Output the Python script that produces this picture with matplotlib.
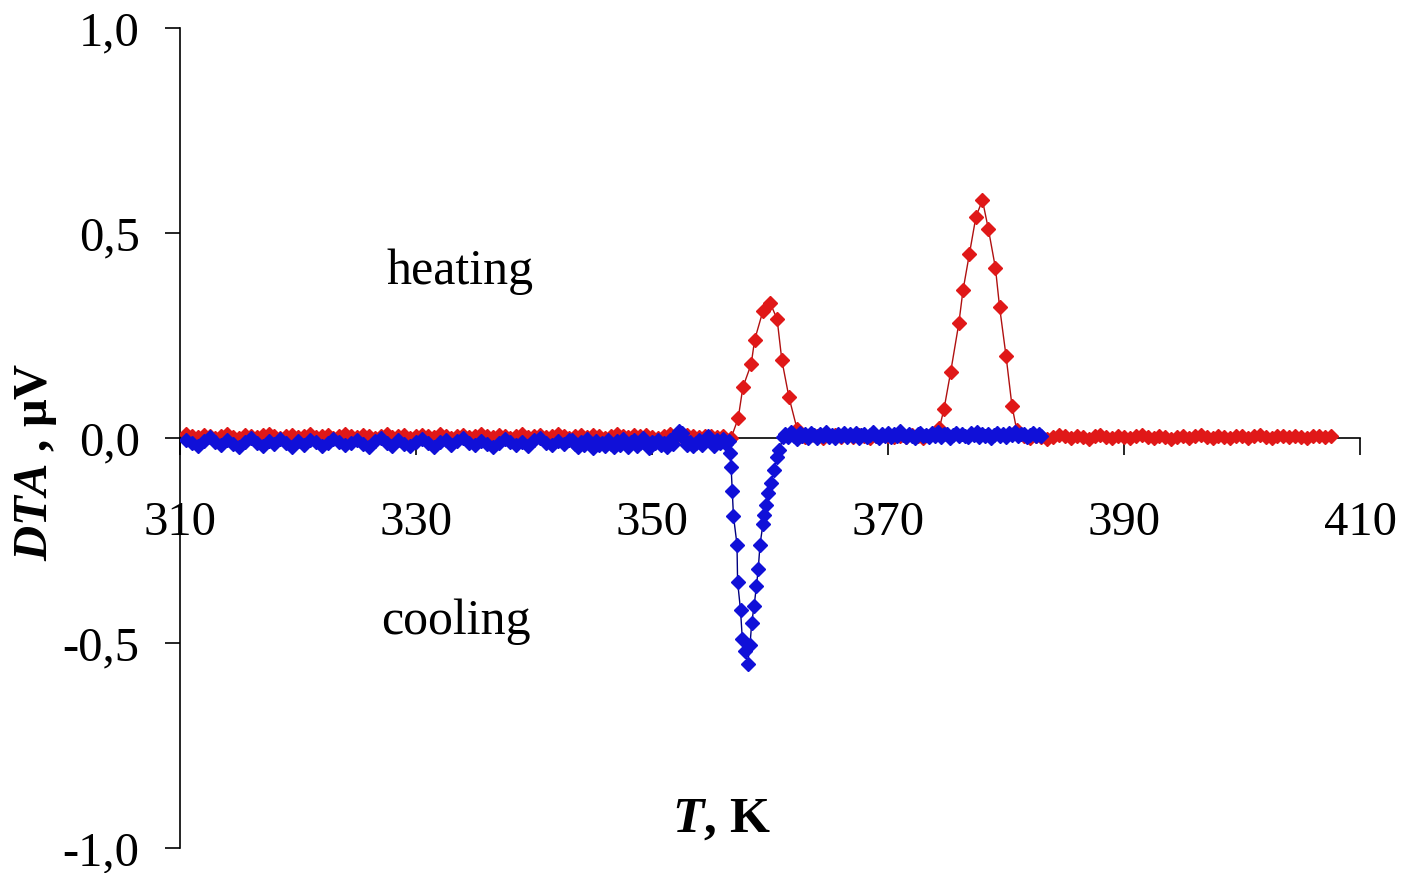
import matplotlib
matplotlib.use("Agg")
import matplotlib.pyplot as plt

plt.rcParams['font.family'] = ['Liberation Serif', 'DejaVu Serif']
plt.rcParams['mathtext.fontset'] = 'custom'
plt.rcParams['mathtext.rm'] = 'Liberation Serif'
plt.rcParams['mathtext.bf'] = 'Liberation Serif:bold'
plt.rcParams['mathtext.bfit'] = 'Liberation Serif:bold:italic'

# heating run (red)
heat_T_a = [310.5, 311.0, 311.5, 312.0, 312.5, 313.0, 313.5, 314.0, 314.5, 315.0,
            315.5, 316.0, 316.5, 317.0, 317.5, 318.0, 318.5, 319.0, 319.5, 320.0,
            320.5, 321.0, 321.5, 322.0, 322.5, 323.0, 323.5, 324.0, 324.5, 325.0,
            325.5, 326.0, 326.5, 327.0, 327.5, 328.0, 328.5, 329.0, 329.5, 330.0,
            330.5, 331.0, 331.5, 332.0, 332.5, 333.0, 333.5, 334.0, 334.5, 335.0,
            335.5, 336.0, 336.5, 337.0, 337.5, 338.0, 338.5, 339.0, 339.5, 340.0,
            340.5, 341.0, 341.5, 342.0, 342.5, 343.0, 343.5, 344.0, 344.5, 345.0,
            345.5, 346.0, 346.5, 347.0, 347.5, 348.0, 348.5, 349.0, 349.5, 350.0,
            350.5, 351.0, 351.5, 352.0, 352.5, 353.0, 353.5, 354.0, 354.5, 355.0,
            355.5, 356.0]
heat_a = [0.010, 0.006, 0.002, 0.007, 0.004, 0.000, 0.006, 0.009, 0.003, 0.001,
          0.008, 0.005, 0.002, 0.007, 0.010, 0.004, 0.000, 0.005, 0.008, 0.003,
          0.006, 0.009, 0.002, 0.004, 0.007, 0.001, 0.005, 0.010, 0.006, 0.002,
          0.008, 0.004, 0.000, 0.006, 0.009, 0.003, 0.005, 0.007, 0.001, 0.004,
          0.008, 0.005, 0.002, 0.009, 0.006, 0.001, 0.004, 0.008, 0.003, 0.006,
          0.010, 0.004, 0.002, 0.007, 0.005, 0.000, 0.006, 0.009, 0.003, 0.005,
          0.008, 0.002, 0.004, 0.010, 0.006, 0.001, 0.005, 0.008, 0.003, 0.007,
          0.004, 0.000, 0.006, 0.009, 0.005, 0.002, 0.007, 0.004, 0.008, 0.003,
          0.001, 0.006, 0.009, 0.004, 0.002, 0.007, 0.005, 0.003, 0.006, 0.004,
          0.002, 0.005]
heat_T_p1 = [356.7, 357.3, 357.7, 358.4, 358.7, 359.4, 360.0, 360.6, 361.0, 361.6, 362.3]
heat_p1 = [0.000, 0.048, 0.124, 0.180, 0.240, 0.310, 0.330, 0.290, 0.190, 0.100, 0.021]
heat_T_b = [362.5, 363.0, 363.5, 364.0, 364.5, 365.0, 365.5, 366.0, 366.5, 367.0,
            367.5, 368.0, 368.5, 369.0, 369.5, 370.0, 370.5, 371.0, 371.5, 372.0,
            372.5, 373.0, 373.5, 374.0]
heat_b = [0.006, 0.003, 0.007, 0.004, 0.001, 0.006, 0.008, 0.003, 0.005, 0.002,
          0.007, 0.004, 0.000, 0.005, 0.008, 0.004, 0.002, 0.006, 0.003, 0.007,
          0.005, 0.001, 0.004, 0.008]
heat_T_p2 = [374.35, 374.75, 375.3, 376.0, 376.35, 376.9, 377.45, 378.0, 378.5, 379.1,
             379.45, 380.0, 380.5, 380.9]
heat_p2 = [0.024, 0.072, 0.160, 0.280, 0.360, 0.450, 0.540, 0.580, 0.510, 0.415,
           0.320, 0.200, 0.079, 0.020]
heat_T_c = [381.5, 382.0, 382.5, 383.0, 383.5, 384.0, 384.5, 385.0, 385.5, 386.0,
            386.5, 387.0, 387.5, 388.0, 388.5, 389.0, 389.5, 390.0, 390.5, 391.0,
            391.5, 392.0, 392.5, 393.0, 393.5, 394.0, 394.5, 395.0, 395.5, 396.0,
            396.5, 397.0, 397.5, 398.0, 398.5, 399.0, 399.5, 400.0, 400.5, 401.0,
            401.5, 402.0, 402.5, 403.0, 403.5, 404.0, 404.5, 405.0, 405.5, 406.0,
            406.5, 407.0, 407.5]
heat_c = [0.004, 0.000, 0.006, 0.002, -0.002, 0.003, 0.007, 0.004, 0.000, 0.005,
          0.002, -0.003, 0.004, 0.008, 0.003, 0.001, 0.006, 0.002, -0.001, 0.004,
          0.007, 0.003, 0.000, 0.005, 0.002, -0.002, 0.003, 0.006, 0.001, 0.004,
          0.007, 0.002, -0.001, 0.005, 0.003, 0.000, 0.006, 0.004, 0.001, 0.005,
          0.008, 0.003, 0.000, 0.004, 0.006, 0.002, 0.005, 0.003, 0.001, 0.004,
          0.006, 0.003, 0.004]

# cooling run (blue)
cool_T_a = heat_T_a[:66]
cool_a = [-0.005, -0.012, -0.020, -0.008, 0.002, -0.010, -0.018, -0.006, -0.014, -0.022,
          -0.009, 0.000, -0.011, -0.019, -0.007, -0.015, -0.003, -0.012, -0.021, -0.008,
          -0.016, -0.004, -0.010, -0.020, -0.013, -0.002, -0.009, -0.018, -0.011, -0.005,
          -0.015, -0.022, -0.008, 0.001, -0.012, -0.019, -0.006, -0.014, -0.020, -0.009,
          -0.003, -0.013, -0.021, -0.010, -0.004, -0.016, -0.008, 0.000, -0.011, -0.018,
          -0.007, -0.015, -0.022, -0.012, -0.003, -0.009, -0.017, -0.010, -0.020, -0.006,
          0.001, -0.011, -0.016, -0.008, -0.014, -0.005]
cool_T_b = [343.25, 343.5, 343.75, 344.0, 344.25, 344.5, 344.75, 345.0, 345.25, 345.5,
            345.75, 346.0, 346.25, 346.5, 346.75, 347.0, 347.25, 347.5, 347.75, 348.0,
            348.25, 348.5, 348.75, 349.0, 349.25, 349.5, 349.75, 350.0, 350.25, 350.5,
            350.75, 351.0, 351.25, 351.5, 351.75, 352.0, 352.25, 352.5, 352.75, 353.0,
            353.25, 353.5, 353.75, 354.0, 354.25, 354.5, 354.75, 355.0, 355.25, 355.5,
            355.75, 356.0, 356.25, 356.5]
cool_b = [-0.004, -0.015, -0.022, -0.009, -0.018, -0.002, -0.012, -0.024, -0.007, -0.016,
          -0.011, -0.020, -0.005, -0.014, -0.023, -0.008, -0.017, -0.003, -0.013, -0.021,
          -0.010, -0.006, -0.019, -0.012, -0.001, -0.015, -0.024, -0.009, -0.013, -0.004,
          -0.018, -0.011, -0.021, -0.006, -0.014, 0.008, 0.018, 0.012, -0.003, -0.016,
          -0.009, -0.020, -0.012, -0.005, -0.017, -0.008, 0.004, -0.010, -0.019, -0.006,
          -0.013, -0.002, -0.015, -0.008]
cool_T_dip = [356.6, 356.7, 356.8, 356.9, 357.2, 357.25, 357.5, 357.65, 357.9, 358.1,
              358.3, 358.45, 358.65, 358.85, 359.0, 359.15, 359.4, 359.5, 359.65, 359.85,
              360.05, 360.35, 360.55, 360.8, 361.1]
cool_dip = [-0.037, -0.070, -0.130, -0.190, -0.260, -0.350, -0.420, -0.490, -0.520, -0.550,
            -0.505, -0.450, -0.410, -0.360, -0.320, -0.260, -0.210, -0.188, -0.163, -0.135,
            -0.110, -0.078, -0.046, -0.029, 0.003]
cool_T_c = [361.25, 361.5, 361.75, 362.0, 362.25, 362.5, 362.75, 363.0, 363.25, 363.5,
            363.75, 364.0, 364.25, 364.5, 364.75, 365.0, 365.25, 365.5, 365.75, 366.0,
            366.25, 366.5, 366.75, 367.0, 367.25, 367.5, 367.75, 368.0, 368.25, 368.5,
            368.75, 369.0, 369.25, 369.5, 369.75, 370.0, 370.25, 370.5, 370.75, 371.0,
            371.25, 371.5, 371.75, 372.0, 372.25, 372.5, 372.75, 373.0, 373.25, 373.5,
            373.75, 374.0, 374.25, 374.5, 374.75, 375.0, 375.25, 375.5, 375.75, 376.0,
            376.25, 376.5, 376.75, 377.0, 377.25, 377.5, 377.75, 378.0, 378.25, 378.5,
            378.75, 379.0, 379.25, 379.5, 379.75, 380.0, 380.25, 380.5, 380.75, 381.0,
            381.25, 381.5, 381.75, 382.0, 382.25, 382.5, 382.75, 383.0]
cool_c = [0.010, 0.002, 0.015, 0.006, -0.002, 0.012, 0.004, 0.009, 0.000, 0.013,
          0.007, 0.001, 0.011, 0.005, 0.014, 0.003, 0.008, -0.001, 0.010, 0.006,
          0.012, 0.002, 0.009, 0.004, 0.013, 0.000, 0.007, 0.011, 0.003, 0.008,
          0.014, 0.005, 0.001, 0.010, 0.006, 0.012, 0.002, 0.009, 0.004, 0.016,
          0.008, 0.003, 0.011, 0.006, 0.000, 0.010, 0.013, 0.004, 0.008, 0.002,
          0.012, 0.006, 0.015, 0.003, 0.009, 0.011, 0.001, 0.007, 0.013, 0.004,
          0.010, 0.006, 0.002, 0.012, 0.008, 0.014, 0.003, 0.009, 0.005, 0.011,
          0.001, 0.008, 0.013, 0.006, 0.010, 0.002, 0.012, 0.007, 0.015, 0.004,
          0.009, 0.011, 0.003, 0.008, 0.013, 0.006, 0.010, 0.004]

x_ticks = [310, 330, 350, 370, 390, 410]
y_ticks = [-1.0, -0.5, 0.0, 0.5, 1.0]
y_ticklabels = ['-1,0', '-0,5', '0,0', '0,5', '1,0']

heat_T = heat_T_a + heat_T_p1 + heat_T_b + heat_T_p2 + heat_T_c
heat = heat_a + heat_p1 + heat_b + heat_p2 + heat_c
cool_T = cool_T_a + cool_T_b + cool_T_dip + cool_T_c
cool = cool_a + cool_b + cool_dip + cool_c

fig = plt.figure(figsize=(14.03, 8.73), dpi=100)
ax = fig.add_axes([0.1283, 0.0286, 0.8411, 0.9393])

ax.plot(heat_T, heat, color='#b01010', lw=1.0, marker='D', ms=7,
        mfc='#e01818', mec='#e01818', zorder=3)
ax.plot(cool_T, cool, color='#000080', lw=1.0, marker='D', ms=7,
        mfc='#1010d8', mec='#1010d8', zorder=4)

ax.set_xlim(310, 410)
ax.set_ylim(-1, 1)
ax.spines['right'].set_visible(False)
ax.spines['top'].set_visible(False)
ax.spines['bottom'].set_position(('data', 0))
ax.spines['left'].set_position(('data', 310))
ax.spines['bottom'].set_linewidth(1.2)
ax.spines['left'].set_linewidth(1.2)

ax.set_xticks(x_ticks)
ax.set_yticks(y_ticks)
ax.set_yticklabels(y_ticklabels)
ax.tick_params(axis='x', direction='out', length=12, width=1.2, pad=33, labelsize=35)
ax.tick_params(axis='y', direction='out', length=11, width=1.2, pad=18, labelsize=35)

ax.text(333.7, 0.405, 'heating', fontsize=36, ha='center', va='center')
ax.text(333.4, -0.449, 'cooling', fontsize=36, ha='center', va='center')
ax.text(355.9, -0.93, r'$\mathbfit{T}$, K', fontsize=37, fontweight='bold',
        ha='center', va='center')
fig.text(0.026, 0.471, r'$\mathbfit{DTA}$ , μV', fontsize=35, fontweight='bold',
         rotation=90, ha='center', va='center')

fig.savefig('out.png', dpi=100)
